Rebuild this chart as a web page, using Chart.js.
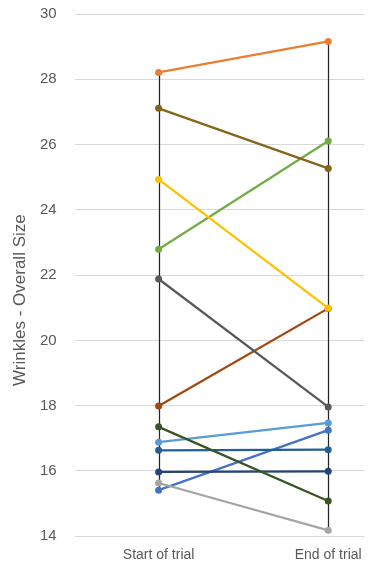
<!DOCTYPE html>
<html>
<head>
<meta charset="utf-8">
<script src="https://cdn.jsdelivr.net/npm/chart.js@4"></script>
<style>
  html, body { margin: 0; padding: 0; background: #fff; }
  #wrap { width: 368px; height: 564px; }
</style>
</head>
<body>
<div id="wrap"><canvas id="chart"></canvas></div>
<script>
const categories = ['Start of trial', 'End of trial'];
const yTicks = [14, 16, 18, 20, 22, 24, 26, 28, 30];
const yTitle = 'Wrinkles - Overall Size';

// one series per subject: [start, end]
const orange    = [28.21, 29.16];
const olive     = [27.11, 25.27];
const yellow    = [24.93, 20.99];
const green     = [22.79, 26.11];
const darkGray  = [21.88, 17.96];
const rust      = [17.99, 20.98];
const darkGreen = [17.35, 15.08];
const lightBlue = [16.88, 17.47];
const steel     = [16.63, 16.65];
const navy      = [15.97, 15.99];
const gray      = [15.63, 14.18];
const blue      = [15.41, 17.25];

const seriesList = [
  [orange, '#ED7D31'],
  [olive, '#86651A'],
  [yellow, '#FFC000'],
  [green, '#70AD47'],
  [darkGray, '#595959'],
  [rust, '#9E480E'],
  [gray, '#A5A5A5'],
  [darkGreen, '#375623'],
  [lightBlue, '#5B9BD5'],
  [steel, '#255E91'],
  [navy, '#264478'],
  [blue, '#4472C4'],
];

const datasets = seriesList.map(([vals, color]) => ({
  data: vals.map((v, i) => ({ x: i, y: v })),
  borderColor: color,
  backgroundColor: color,
  borderWidth: 2.25,
  pointRadius: 3.5,
  pointHoverRadius: 3.5,
  pointBorderWidth: 0,
  tension: 0,
}));

// Excel-style high-low lines at each category
const highLow = {
  id: 'highLow',
  beforeDatasetsDraw(chart) {
    const { ctx, scales: { x, y } } = chart;
    ctx.save();
    ctx.strokeStyle = '#262626';
    ctx.lineWidth = 1.25;
    categories.forEach((c, i) => {
      const vals = seriesList.map(s => s[0][i]);
      const px = Math.round(x.getPixelForValue(i)) + 0.5;
      ctx.beginPath();
      ctx.moveTo(px, y.getPixelForValue(Math.max(...vals)));
      ctx.lineTo(px, y.getPixelForValue(Math.min(...vals)));
      ctx.stroke();
    });
    ctx.restore();
  }
};

// axis title sits a bit below the plot centre in the original
const sideTitle = {
  id: 'sideTitle',
  afterDraw(chart) {
    const { ctx, chartArea } = chart;
    ctx.save();
    ctx.translate(20, (chartArea.top + chartArea.bottom) / 2 + 25);
    ctx.rotate(-Math.PI / 2);
    ctx.fillStyle = '#595959';
    ctx.font = '17px "Liberation Sans"';
    ctx.textAlign = 'center';
    ctx.textBaseline = 'middle';
    ctx.fillText(yTitle, 0, 0);
    ctx.restore();
  }
};

// drop the edge padding and the doubled tick padding chart.js reserves
const tightFit = axis => {
  axis.paddingLeft = 0; axis.paddingRight = 0;
  axis.paddingTop = 0; axis.paddingBottom = 0;
  const pad = axis.options.ticks.padding;
  if (axis.isHorizontal()) axis.height -= pad;
  else axis.width -= pad;
};

new Chart(document.getElementById('chart'), {
  type: 'line',
  data: { datasets },
  plugins: [highLow, sideTitle],
  options: {
    responsive: true,
    maintainAspectRatio: false,
    animation: false,
    layout: { padding: { top: 14, right: 0, bottom: 0, left: 40 } },
    plugins: { legend: { display: false }, tooltip: { enabled: false } },
    scales: {
      x: {
        type: 'linear',
        min: -0.495,
        max: 1.214,
        afterBuildTicks: axis => { axis.ticks = categories.map((c, i) => ({ value: i })); },
        afterFit: tightFit,
        grid: { display: false, drawTicks: false },
        border: { display: false },
        ticks: {
          callback: v => categories[v],
          color: '#595959',
          font: { family: 'Liberation Sans', size: 14 },
          padding: 11,
          maxRotation: 0,
        },
      },
      y: {
        min: 14,
        max: 30,
        afterBuildTicks: axis => { axis.ticks = yTicks.map(v => ({ value: v })); },
        afterFit: tightFit,
        grid: { color: '#d9d9d9', lineWidth: 1, drawTicks: false },
        border: { display: false },
        ticks: {
          color: '#595959',
          font: { family: 'Liberation Sans', size: 15 },
          padding: 18,
        },
      },
    },
  },
});
</script>
</body>
</html>
